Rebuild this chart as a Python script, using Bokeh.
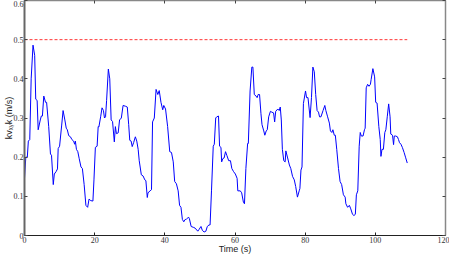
from bokeh.plotting import figure
from bokeh.models import Range1d, FixedTicker, LinearAxis
from bokeh.embed import file_html
from bokeh.resources import INLINE

# speed trace (time in s, speed in m/s)
t = [0.0, 0.37, 0.8, 1.1, 1.5, 1.9, 2.43, 2.9, 3.2, 3.6, 3.9, 4.5, 4.8, 5.1, 5.5, 6.0, 6.3, 6.9, 7.4, 7.7,
     8.2, 8.5, 9.0, 9.4, 9.6, 10.0, 10.6, 11.0, 11.5, 11.9, 12.2, 12.6, 13.1, 13.5, 14.0, 14.3, 14.5, 14.8,
     15.2, 15.6, 16.1, 16.5, 17.0, 17.5, 18.0, 18.4, 18.9, 19.5, 19.8, 20.2, 20.7, 21.0, 21.2, 21.7, 22.1,
     22.5, 22.8, 23.1, 23.4, 23.9, 24.3, 24.7, 25.1, 25.6, 25.9, 26.2, 26.7, 27.1, 27.6, 28.1, 28.8, 29.3,
     29.7, 30.0, 30.4, 30.7, 31.1, 31.6, 32.0, 32.4, 32.7, 33.3, 33.8, 34.3, 34.6, 35.0, 35.2, 35.8, 36.2,
     36.5, 37.0, 37.5, 38.0, 38.4, 38.9, 39.4, 39.7, 40.2, 40.8, 41.4, 41.9, 42.4, 42.8, 43.3, 43.8, 44.2,
     44.6, 45.0, 45.4, 45.8, 46.1, 46.75, 47.0, 47.5, 48.1, 48.6, 49.4, 49.8, 50.3, 50.7, 51.2, 51.7, 52.1,
     52.6, 52.9, 53.3, 53.8, 54.1, 54.5, 54.8, 55.3, 55.6, 56.0, 56.2, 56.5, 56.9, 57.3, 57.7, 58.2, 58.7,
     59.1, 59.6, 60.1, 60.6, 60.8, 61.5, 61.9, 62.4, 62.7, 63.1, 63.6, 63.8, 64.3, 64.8, 65.1, 65.5, 66.0,
     66.3, 66.6, 67.0, 67.4, 67.7, 68.2, 68.5, 68.9, 69.2, 69.6, 70.1, 70.5, 71.0, 71.3, 71.6, 72.2, 72.6,
     72.9, 73.2, 73.5, 73.9, 74.3, 74.5, 75.0, 75.5, 75.9, 76.4, 76.9, 77.3, 77.8, 78.3, 78.5, 78.8, 79.1,
     79.5, 80.1, 80.4, 80.8, 81.4, 81.8, 82.2, 82.6, 83.0, 83.4, 83.8, 84.1, 84.5, 85.1, 85.6, 85.9, 86.4,
     86.9, 87.2, 87.6, 87.9, 88.3, 88.6, 89.0, 89.5, 89.95, 90.4, 90.9, 91.4, 91.6, 92.1, 92.6, 93.0, 93.5,
     93.9, 94.3, 94.6, 95.0, 95.4, 95.7, 96.0, 96.5, 96.9, 97.1, 97.4, 97.8, 98.2, 98.6, 98.8, 99.3, 99.8,
     100.1, 100.5, 101.0, 101.4, 101.6, 101.9, 102.3, 102.7, 103.0, 103.4, 103.8, 104.2, 104.4, 104.9,
     105.2, 105.4, 105.8, 106.3, 106.6, 106.9, 107.3, 107.7, 108.2, 108.6, 109.1]
speed = [0.146, 0.2, 0.2, 0.241, 0.245, 0.40, 0.486, 0.46, 0.348, 0.345, 0.27, 0.295, 0.305, 0.305, 0.356,
         0.34, 0.34, 0.278, 0.208, 0.205, 0.13, 0.157, 0.163, 0.17, 0.222, 0.228, 0.282, 0.319, 0.295, 0.274,
         0.27, 0.255, 0.252, 0.245, 0.241, 0.233, 0.241, 0.22, 0.214, 0.196, 0.175, 0.171, 0.13, 0.077, 0.072,
         0.093, 0.089, 0.088, 0.142, 0.225, 0.228, 0.278, 0.277, 0.303, 0.326, 0.319, 0.30, 0.303, 0.345,
         0.425, 0.40, 0.295, 0.291, 0.239, 0.278, 0.26, 0.262, 0.295, 0.3, 0.332, 0.33, 0.328, 0.283, 0.243,
         0.241, 0.227, 0.237, 0.252, 0.241, 0.22, 0.191, 0.155, 0.152, 0.142, 0.14, 0.097, 0.109, 0.114,
         0.117, 0.29, 0.3, 0.373, 0.36, 0.37, 0.34, 0.321, 0.332, 0.323, 0.278, 0.214, 0.212, 0.188, 0.138,
         0.132, 0.114, 0.077, 0.072, 0.041, 0.035, 0.041, 0.041, 0.047, 0.043, 0.023, 0.021, 0.019, 0.011,
         0.016, 0.023, 0.013, 0.009, 0.011, 0.023, 0.027, 0.027, 0.114, 0.228, 0.233, 0.3, 0.303, 0.305,
         0.228, 0.225, 0.188, 0.196, 0.198, 0.214, 0.204, 0.191, 0.191, 0.171, 0.163, 0.157, 0.146, 0.114,
         0.114, 0.109, 0.085, 0.081, 0.171, 0.235, 0.235, 0.369, 0.43, 0.43, 0.36, 0.356, 0.352, 0.36, 0.36,
         0.311, 0.283, 0.267, 0.256, 0.267, 0.27, 0.303, 0.317, 0.315, 0.313, 0.29, 0.317, 0.323, 0.319,
         0.328, 0.295, 0.22, 0.191, 0.188, 0.216, 0.198, 0.18, 0.171, 0.151, 0.142, 0.125, 0.098, 0.114,
         0.12, 0.167, 0.175, 0.337, 0.369, 0.352, 0.352, 0.301, 0.352, 0.43, 0.418, 0.36, 0.319, 0.315,
         0.303, 0.303, 0.319, 0.332, 0.319, 0.303, 0.287, 0.267, 0.263, 0.27, 0.256, 0.256, 0.22, 0.171,
         0.138, 0.13, 0.104, 0.098, 0.081, 0.072, 0.077, 0.068, 0.054, 0.051, 0.054, 0.104, 0.114, 0.228,
         0.263, 0.254, 0.254, 0.27, 0.274, 0.377, 0.386, 0.381, 0.386, 0.398, 0.426, 0.405, 0.34, 0.338,
         0.278, 0.245, 0.202, 0.22, 0.22, 0.263, 0.27, 0.303, 0.336, 0.303, 0.259, 0.256, 0.232, 0.254,
         0.254, 0.252, 0.245, 0.237, 0.233, 0.225, 0.212, 0.2, 0.185]

# threshold
thr_t = [0.0, 109.1]
thr_v = [0.5, 0.5]

x_ticks = [0, 20, 40, 60, 80, 100, 120]
y_ticks = [0, 0.1, 0.2, 0.3, 0.4, 0.5, 0.6]

p = figure(width=449, height=256, output_backend="svg", toolbar_location=None,
           x_range=Range1d(0, 120), y_range=Range1d(0, 0.6),
           min_border_left=0, min_border_right=4, min_border_top=0, min_border_bottom=0)
p.grid.visible = False
p.outline_line_color = None

p.line(thr_t, thr_v, line_color="#ff0000", line_width=0.8, line_dash="3 2")
p.line(t, speed, line_color="#0000ff", line_width=1.0)

tick_font = "Liberation Serif"

xa = p.xaxis[0]
xa.ticker = FixedTicker(ticks=x_ticks)
xa.axis_label = "Time (s)"
ya = p.yaxis[0]
ya.ticker = FixedTicker(ticks=y_ticks)
ya.axis_label = "kvₓᵧk (m/s)"
ya.major_label_overrides = {0: "0"}

for ax in (xa, ya):
    ax.major_tick_in = 3
    ax.major_tick_out = 0
    ax.minor_tick_line_color = None
    ax.major_label_text_font = tick_font
    ax.major_label_text_font_size = "8px"
    ax.major_label_text_color = "#333333"
    ax.major_label_standoff = 1
    ax.axis_label_text_font = "Liberation Sans"
    ax.axis_label_text_font_style = "normal"
    ax.axis_label_text_font_size = "9px"
    ax.axis_label_text_color = "#222222"
xa.axis_label_standoff = -2
ya.axis_label_standoff = -3
xa.axis_line_color = "#222222"
xa.major_tick_line_color = "#222222"
ya.axis_line_color = "#666666"
ya.axis_line_width = 2
ya.major_tick_line_color = "#444444"

top = LinearAxis(ticker=FixedTicker(ticks=x_ticks))
right = LinearAxis(ticker=FixedTicker(ticks=y_ticks))
for ax, tk in ((top, x_ticks), (right, y_ticks)):
    ax.major_tick_in = 3
    ax.major_tick_out = 0
    ax.minor_tick_line_color = None
    ax.major_label_overrides = {v: "" for v in tk}
    ax.major_label_text_font_size = "1px"
    ax.major_label_standoff = 0
    ax.axis_line_color = "#888888"
    ax.axis_line_width = 1.5
    ax.major_tick_line_color = "#444444"
p.add_layout(top, "above")
p.add_layout(right, "right")

open("out.html", "w").write(file_html(p, INLINE))
